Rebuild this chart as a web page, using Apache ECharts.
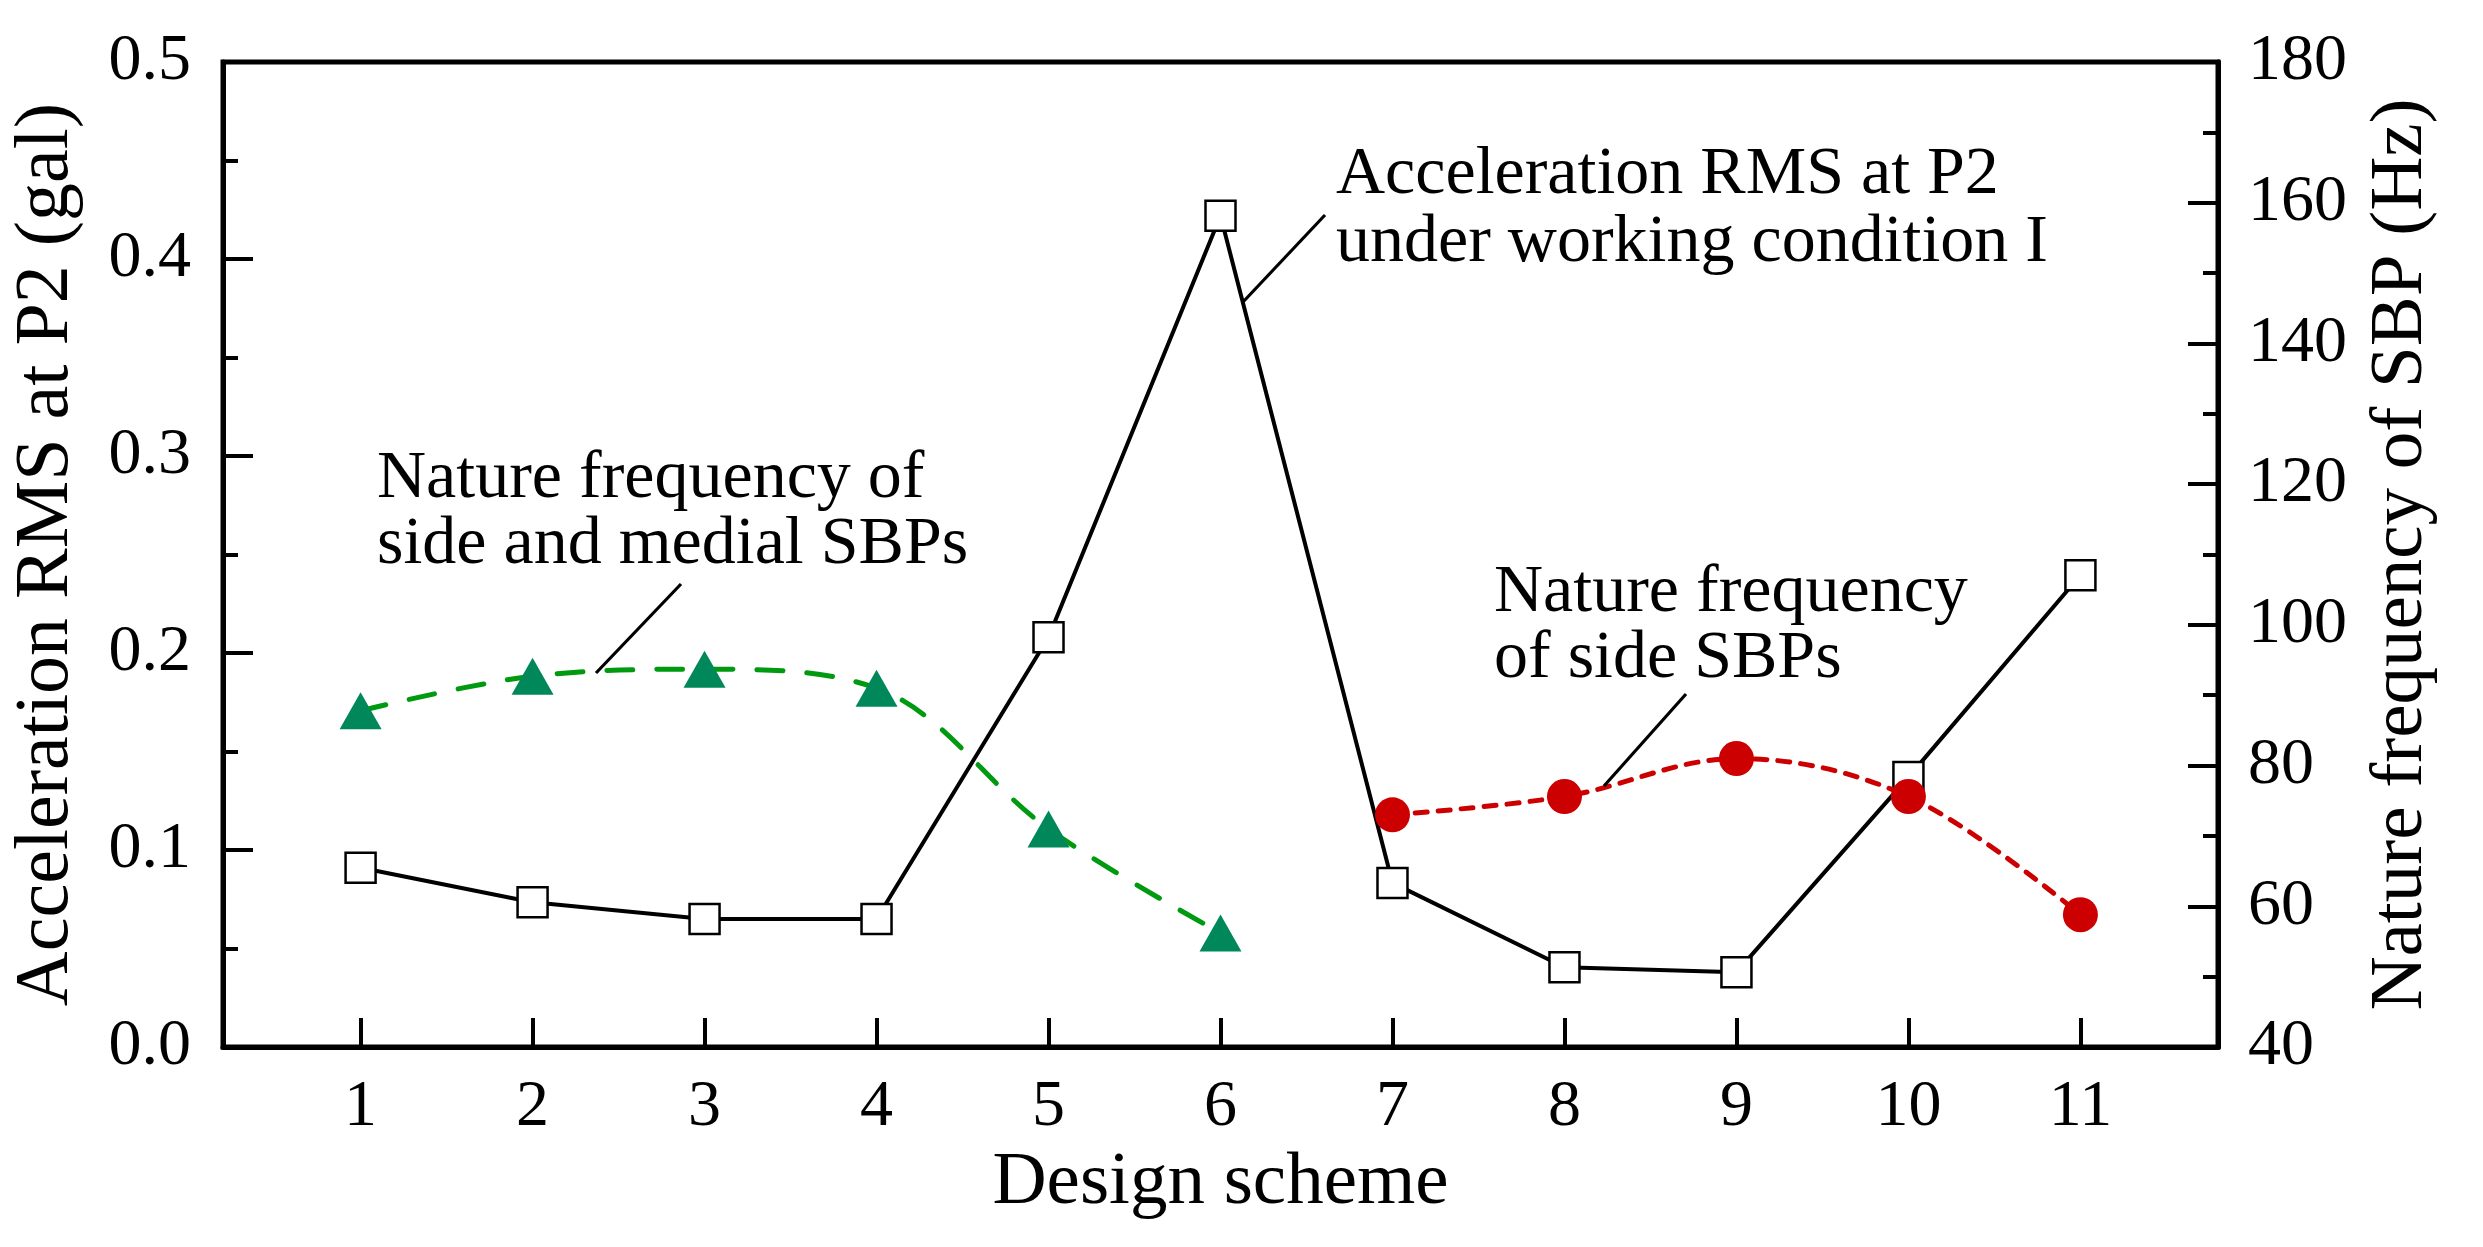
<!DOCTYPE html>
<html>
<head>
<meta charset="utf-8">
<script src="https://cdn.jsdelivr.net/npm/echarts@6/dist/echarts.min.js"></script>
<style>
html,body{margin:0;padding:0;background:#fff;}
#chart{width:2483px;height:1247px;}
</style>
</head>
<body>
<div id="chart"></div>
<script>
// ---- data ----
const schemes = [1, 2, 3, 4, 5, 6, 7, 8, 9, 10, 11];
const accRMS = [0.091, 0.0735, 0.065, 0.065, 0.208, 0.422, 0.0833, 0.0405, 0.038, 0.137, 0.2395];
const freqSideMedialX = [1, 2, 3, 4, 5, 6];
const freqSideMedial = [87.8, 92.7, 93.7, 91.0, 71.0, 56.2];
const freqSideX = [7, 8, 9, 10, 11];
const freqSide = [73.0, 75.6, 81.0, 75.6, 58.8];
const leftTicks = [0, 0.1, 0.2, 0.3, 0.4, 0.5];
const rightTicks = [40, 60, 80, 100, 120, 140, 160, 180];

const FONT = '"Liberation Serif", "Times New Roman", serif';

const chart = echarts.init(document.getElementById('chart'), null, {renderer: 'canvas'});

const pairs = (xs, ys) => xs.map((x, i) => [x, ys[i]]);

const option = {
  backgroundColor: '#fff',
  animation: false,
  grid: {
    left: 223, right: 265, top: 62, bottom: 200,
    show: true, borderColor: '#000', borderWidth: 5, backgroundColor: 'transparent'
  },
  xAxis: {
    type: 'value', min: 0.2, max: 11.8,
    name: 'Design scheme', nameLocation: 'middle', nameGap: 99,
    nameTextStyle: {fontFamily: FONT, fontSize: 75, color: '#000'},
    axisLine: {show: true, onZero: false, lineStyle: {color: '#000', width: 5}},
    axisTick: {show: true, inside: true, length: 29, customValues: schemes, lineStyle: {color: '#000', width: 4}},
    axisLabel: {show: true, customValues: schemes, margin: 28, fontFamily: FONT, fontSize: 66, color: '#000'},
    splitLine: {show: false}
  },
  yAxis: [
    {
      type: 'value', min: leftTicks[0], max: leftTicks[leftTicks.length - 1], interval: 0.1,
      position: 'left',
      name: 'Acceleration RMS at P2 (gal)', nameLocation: 'middle', nameGap: 138,
      nameTextStyle: {fontFamily: FONT, fontSize: 76, color: '#000'},
      axisLine: {show: true, onZero: false, lineStyle: {color: '#000', width: 5}},
      axisTick: {show: true, inside: true, length: 30, lineStyle: {color: '#000', width: 4}},
      minorTick: {show: true, splitNumber: 2, length: 15, lineStyle: {color: '#000', width: 4}},
      axisLabel: {margin: 32, fontFamily: FONT, fontSize: 66, color: '#000', formatter: v => v.toFixed(1)},
      splitLine: {show: false}, minorSplitLine: {show: false}
    },
    {
      type: 'value', min: rightTicks[0], max: rightTicks[rightTicks.length - 1], interval: 20,
      position: 'right',
      name: 'Nature frequency of SBP (Hz)', nameLocation: 'middle', nameGap: 146,
      nameTextStyle: {fontFamily: FONT, fontSize: 75, color: '#000'},
      axisLine: {show: true, onZero: false, lineStyle: {color: '#000', width: 5}},
      axisTick: {show: true, inside: true, length: 30, lineStyle: {color: '#000', width: 4}},
      minorTick: {show: true, splitNumber: 2, length: 15, lineStyle: {color: '#000', width: 4}},
      axisLabel: {margin: 30, fontFamily: FONT, fontSize: 66, color: '#000'},
      splitLine: {show: false}, minorSplitLine: {show: false}
    }
  ],
  series: [
    {
      name: 'Acceleration RMS', type: 'line', xAxisIndex: 0, yAxisIndex: 0,
      data: pairs(schemes, accRMS),
      symbol: 'rect', symbolSize: 30,
      itemStyle: {color: '#fff', borderColor: '#000', borderWidth: 2.5},
      lineStyle: {color: '#000', width: 4},
      z: 2
    },
    {
      name: 'Side and medial SBPs', type: 'line', xAxisIndex: 0, yAxisIndex: 1,
      data: pairs(freqSideMedialX, freqSideMedial),
      symbol: 'triangle', symbolSize: [42, 37], smooth: 0.35,
      itemStyle: {color: '#00875A'},
      lineStyle: {color: '#009A10', width: 5, type: [26, 24], cap: 'round'},
      z: 3
    },
    {
      name: 'Side SBPs', type: 'line', xAxisIndex: 0, yAxisIndex: 1,
      data: pairs(freqSideX, freqSide),
      symbol: 'circle', symbolSize: 35, smooth: 0.35,
      itemStyle: {color: '#CC0000'},
      lineStyle: {color: '#CC0000', width: 5, type: [12, 11], cap: 'round'},
      z: 4
    }
  ],
  graphic: [
    {type: 'text', z: 10, style: {text: 'Acceleration RMS at P2\nunder working condition I', x: 1336, y: 141, fontFamily: FONT, fontSize: 68, lineHeight: 68, fill: '#000', align: 'left', verticalAlign: 'top'}},
    {type: 'line', z: 10, shape: {x1: 1325, y1: 215, x2: 1243, y2: 302}, style: {stroke: '#000', lineWidth: 3.2}},
    {type: 'text', z: 10, style: {text: 'Nature frequency of\nside and medial SBPs', x: 377, y: 446, fontFamily: FONT, fontSize: 68, lineHeight: 66, fill: '#000', align: 'left', verticalAlign: 'top'}},
    {type: 'line', z: 10, shape: {x1: 681, y1: 584, x2: 596, y2: 673}, style: {stroke: '#000', lineWidth: 3.2}},
    {type: 'text', z: 10, style: {text: 'Nature frequency\nof side SBPs', x: 1494, y: 560, fontFamily: FONT, fontSize: 68, lineHeight: 66, fill: '#000', align: 'left', verticalAlign: 'top'}},
    {type: 'line', z: 10, shape: {x1: 1686, y1: 694, x2: 1604, y2: 786}, style: {stroke: '#000', lineWidth: 3.2}}
  ]
};
chart.setOption(option);
</script>
</body>
</html>
